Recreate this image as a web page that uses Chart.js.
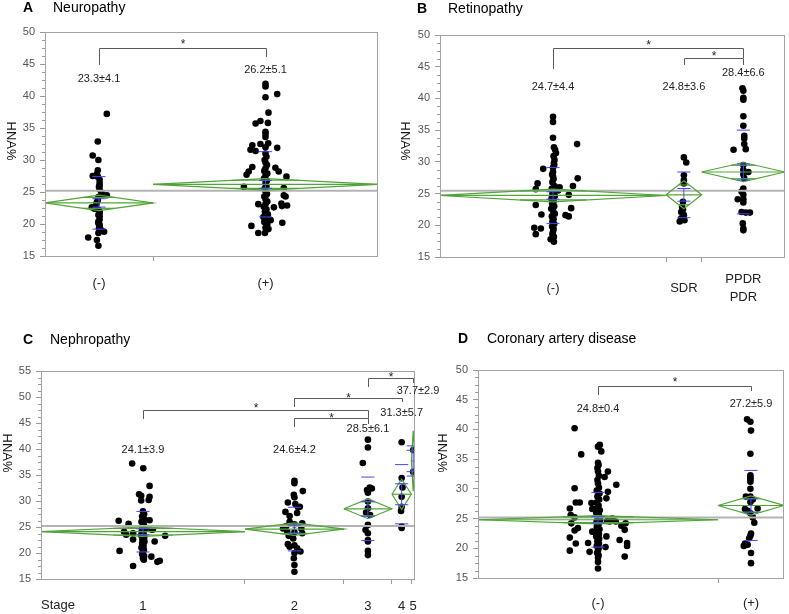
<!DOCTYPE html>
<html>
<head>
<meta charset="utf-8">
<script src="https://cdn.jsdelivr.net/npm/chart.js@4.4.1/dist/chart.umd.min.js"></script>
<style>
  body { margin: 0; background: #fff; }
  #wrap { position: relative; width: 789px; height: 614px; }
  .panel { position: absolute; }
</style>
</head>
<body>
<div id="wrap">
  <div class="panel" style="left:0;top:0;width:390px;height:300px"><canvas id="chartA"></canvas></div>
  <div class="panel" style="left:390px;top:0;width:399px;height:310px"><canvas id="chartB"></canvas></div>
  <div class="panel" style="left:0;top:300px;width:460px;height:314px"><canvas id="chartC"></canvas></div>
  <div class="panel" style="left:390px;top:300px;width:399px;height:314px"><canvas id="chartD"></canvas></div>
</div>
<script>
var FONT = '"Liberation Sans", Arial, Helvetica, sans-serif';
Chart.defaults.font.family = FONT;

// ---- A: Neuropathy ----
var neuroLabels = ['(-)', '(+)'];
var neuroWidths = [36, 75];
var neuroMeans = [23.3, 26.2];
var neuroSDs = [4.1, 5.1];
var neuroCI = [1.2, 0.9];
var neuroGrand = 25.2;
var neuroStats = ['23.3\u00b14.1', '26.2\u00b15.1'];
// points as [jitter, HNA%]
var neuroNeg = [[2.6,37.2],[-0.4,32.9],[-2.1,30.7],[-0.2,30.0],[-0.4,28.4],[-0.7,27.8],[-2.1,27.5],[-0.4,27.4],[0.2,26.9],[0.2,26.4],[0.2,26.0],[0,25.8],[0.2,25.4],[0.8,24.9],[2.6,24.5],[1.2,24.6],[-0.2,24.2],[-0.4,23.7],[-0.7,23.4],[-0.9,23.1],[-2.4,22.6],[-1.5,22.4],[-0.2,22.2],[0.2,21.9],[0.2,21.7],[-0.2,21.4],[0.2,21.2],[0.2,20.7],[-0.2,20.4],[-0.2,20.1],[0.2,19.9],[0.2,19.6],[0,19.3],[0.8,19.0],[1.7,18.8],[-0.2,18.6],[-3.6,17.9],[-0.7,17.5],[-0.2,16.6]];
var neuroPos = [[0,41.9],[0,41.5],[3.9,40.3],[0,39.8],[1.0,37.4],[-3.3,35.7],[-1.7,36.1],[0.8,35.8],[0,34.4],[0,34.1],[0,33.6],[-4.4,32.3],[-1.7,32.5],[0.9,32.6],[-5,31.6],[-3.3,31.4],[3.9,31.9],[0,32.0],[0,31.0],[0.3,30.5],[-0.3,30.0],[0,29.6],[0.5,29.2],[-4.4,28.9],[3.3,28.8],[0,28.7],[-5.6,28.2],[4.4,28.2],[-0.4,28.3],[-6.3,27.7],[0.6,27.9],[7,27.4],[0,27.5],[-0.5,27.1],[0.4,26.7],[0,26.3],[-7.2,25.8],[6.1,25.6],[0.3,25.9],[-0.3,25.5],[0,25.1],[6.1,24.5],[6.7,24.3],[0.5,24.7],[-0.4,24.3],[0,23.9],[0.6,23.5],[-2.4,23.1],[5.3,23.2],[0,23.1],[5.5,22.8],[7.2,22.9],[2.8,22.6],[-0.6,22.7],[0.3,22.3],[-0.2,21.9],[0.8,21.5],[-0.7,21.1],[1.7,20.6],[0,20.7],[5.6,20.2],[-0.4,20.3],[-4.7,19.7],[0.6,19.9],[0,19.4],[-2.4,18.6],[-0.2,18.6],[1.0,19.2]];

// ---- B: Retinopathy ----
var retinoLabels = ['(-)', 'SDR', ['PPDR', 'PDR']];
var retinoWidths = [76, 12, 28];
var retinoMeans = [24.7, 24.8, 28.4];
var retinoSDs = [4.4, 3.6, 6.6];
var retinoCI = [1.0, 2.2, 1.5];
var retinoGrand = 25.45;
var retinoStats = ['24.7\u00b14.4', '24.8\u00b13.6', '28.4\u00b16.6'];
var retinoNeg = [[0,37.1],[0,36.3],[0,33.8],[8.1,32.8],[0.3,32.3],[0.7,31.9],[1,31.4],[0.2,30.9],[0.5,30.3],[0.3,29.8],[0,29.1],[-3.3,28.9],[0,28.4],[0,27.7],[8.3,27.4],[-5.2,26.6],[-5.8,25.7],[2.2,26.0],[6.7,26.2],[1.7,25.5],[5.3,24.8],[-5.8,23.2],[-3.9,21.7],[4.2,21.6],[5.3,21.4],[6.1,22.7],[-6.3,19.6],[-4.1,19.5],[-5.8,18.6],[-0.8,17.8],[0.3,17.4],[0.4,29.5],[-0.3,28.0],[0.2,27.3],[-0.2,26.8],[0.5,26.2],[-0.4,25.8],[0.3,25.3],[-0.2,25.0],[0.6,24.6],[-0.5,24.2],[0.2,23.8],[-0.3,23.4],[0.4,23.0],[-0.6,22.6],[0.1,22.2],[0.6,21.8],[-0.4,21.4],[0.2,21.0],[-0.2,20.6],[0.4,20.2],[-0.3,19.8],[0.2,19.4],[0,19.0],[-0.2,18.6],[0.3,18.2]];
var retinoSDR = [[0,30.7],[0.8,29.9],[0,27.9],[0,27.1],[0,26.6],[-0.3,23.7],[-0.6,22.9],[-0.3,22.5],[-0.9,22.1],[0,21.6],[-0.9,21.1],[0.2,20.8],[-1.4,20.6]];
var retinoPDR = [[-0.3,41.6],[0,41.2],[0,40.1],[0,39.8],[0,37.2],[0,35.7],[0.3,34.1],[0.3,33.7],[-3.3,31.9],[0.3,32.8],[0.8,32.0],[0,29.5],[0,28.7],[1.7,28.4],[0,28.0],[0.3,27.4],[0,25.8],[-0.6,25.3],[0,24.8],[0,24.1],[-1.9,24.1],[0,23.6],[-0.6,22.1],[0.8,22.0],[2.2,22.0],[-0.2,20.3],[0,19.5],[0,19.2]];

// ---- C: Nephropathy ----
var nephroLabels = ['1', '2', '3', '4', '5'];
var nephroWidths = [68, 33, 16, 6.5, 1.2];
var nephroMeans = [24.1, 24.6, 28.5, 31.3, 37.7];
var nephroSDs = [3.9, 4.2, 6.1, 5.7, 2.9];
var nephroCI = [0.9, 1.2, 1.9, 2.9, 5.8];
var nephroGrand = 25.2;
var nephroStats = ['24.1\u00b13.9', '24.6\u00b14.2', '28.5\u00b16.1', '31.3\u00b15.7', '37.7\u00b12.9'];
var nephro1 = [[-3.6,37.2],[0.1,36.3],[2.2,32.9],[-1.3,31.3],[-0.6,31.0],[2.2,30.8],[1.9,30.2],[-0.6,30.1],[-8.1,26.2],[-4.8,25.6],[2.2,26.3],[3.3,24.5],[2.8,24.5],[-6.3,24.1],[-5.6,23.5],[-3.3,23.8],[7.4,23.3],[-3.3,22.6],[3.9,22.2],[-7.8,20.4],[2.8,19.3],[4.8,18.3],[5.6,18.5],[-3.3,17.5],[0.3,18.7],[0,28.0],[0.4,27.5],[-0.3,27.0],[0.5,26.5],[-0.5,26.0],[0.3,25.5],[-0.2,25.0],[0.6,24.6],[-0.4,24.2],[0.2,23.8],[-0.6,23.4],[0.4,23.0],[-0.2,22.6],[0.5,22.2],[-0.3,21.8],[0.2,21.4],[-0.5,21.0],[0.3,20.6],[0,20.2],[-0.3,19.8],[0.4,19.4],[0,19.0]];
var nephro2 = [[0,33.9],[0,33.4],[2.8,31.9],[-0.2,31.2],[0,30.7],[-2.2,29.7],[0.3,29.4],[1.2,28.8],[1.8,28.9],[-3,27.9],[-1.6,27.1],[0.9,27.7],[-1.6,26.0],[-2.7,25.2],[-3.8,24.7],[0,25.5],[2.6,25.7],[2.3,24.7],[2.6,23.8],[-2.4,24.1],[-1.9,23.3],[-0.4,22.8],[0,24.0],[-2.2,21.7],[-1.6,21.2],[0.9,20.9],[2,20.3],[0,21.5],[-0.2,19.0],[0,17.7],[0,16.4],[0,20.0]];
var nephro3 = [[0,41.8],[0,40.3],[-1.7,37.3],[0.6,32.6],[1.3,32.4],[-0.3,32.1],[0,31.6],[0,29.9],[0,28.6],[-0.6,27.8],[0.7,27.3],[0,25.4],[-0.8,24.4],[0,23.8],[0,22.5],[0,22.2],[0,20.4],[0,19.6]];
var nephro4 = [[0,41.3],[0,34.4],[0.3,32.6],[0,30.8],[0,28.9],[-0.2,28.1],[0,25.1],[0,24.8]];
var nephro5 = [[0,39.8],[0,35.6]];

// ---- D: Coronary artery disease ----
var cadLabels = ['(-)', '(+)'];
var cadWidths = [80, 22];
var cadMeans = [24.8, 27.2];
var cadSDs = [4.6, 5.9];
var cadCI = [0.7, 1.6];
var cadGrand = 25.2;
var cadStats = ['24.8\u00b10.4', '27.2\u00b15.9'];
var cadNeg = [[-7.8,40.2],[0.6,37.4],[0,37.1],[-5.6,35.8],[1.1,36.3],[0,34.4],[0.2,34.0],[-0.2,33.5],[0,32.9],[0.3,32.2],[-0.2,31.5],[0,30.9],[3.3,32.9],[2.2,32.0],[6.1,30.7],[-7.8,30.1],[3.3,29.5],[2.8,28.4],[-7.4,27.7],[-6.1,27.7],[-2.2,27.6],[-9.4,26.7],[-1.9,26.6],[-9.1,25.6],[-7.8,25.2],[4.8,25.0],[3.9,24.5],[3.0,24.6],[5.9,24.5],[7.8,23.8],[9.2,24.2],[-8.9,24.2],[-6.7,23.4],[-7.8,23.0],[8.9,23.1],[-1.9,22.8],[2.8,22.0],[-9.4,21.8],[7.2,21.4],[-7.4,20.8],[-3.3,20.9],[9.7,20.9],[9.7,20.4],[-9.4,19.6],[-2.8,19.4],[2.5,20.2],[8.9,18.6],[0,17.7],[0,16.6],[0.3,30.2],[-0.4,29.7],[0.5,29.2],[-0.2,28.7],[0.4,28.2],[-0.5,27.7],[0.2,27.2],[-0.3,26.8],[0.6,26.4],[-0.6,26.0],[0.3,25.6],[-0.2,25.2],[0.7,24.8],[-0.5,24.4],[0.2,24.0],[-0.4,23.6],[0.5,23.2],[-0.2,22.8],[0.3,22.4],[-0.6,22.0],[0.4,21.6],[-0.2,21.2],[0.3,20.8],[-0.4,20.4],[0.2,20.0],[0,19.6],[-0.3,19.2],[0.2,18.8],[0,18.4]];
var cadPos = [[-1.3,41.7],[-0.2,41.3],[0,39.8],[-0.2,35.9],[-0.2,32.3],[-0.2,31.9],[-0.2,31.6],[-0.2,31.2],[-0.2,30.0],[-0.2,28.7],[-1.7,28.7],[0.6,28.2],[-0.2,27.8],[2.2,26.7],[-2,26.6],[-1.1,26.3],[-0.2,25.9],[0.6,25.2],[1.1,24.3],[0,22.5],[-0.2,22.1],[-0.6,21.7],[-2,20.8],[-1.1,20.6],[-2.4,20.4],[0,19.2],[0,17.5]];

var GREEN = '#52a33a';
var BLUE = '#4646f5';
var CAP = 2.2; // half width of the blue caps, x units

function seg(points, color, width, order) {
  return { type: 'scatter', data: points, showLine: true, borderColor: color, borderWidth: width,
           pointRadius: 0, pointHoverRadius: 0, fill: false, tension: 0, order: order };
}

function makePanel(p) {
  var starts = [], acc = 0;
  p.widths.forEach(function(w) { starts.push(acc); acc += w; });
  var total = acc;
  var centers = p.widths.map(function(w, i) { return starts[i] + w / 2; });
  var bounds = starts.slice(1);

  var datasets = [];
  var pts = [];
  p.groups.forEach(function(g, i) {
    g.forEach(function(d) { pts.push({ x: centers[i] + d[0], y: d[1] }); });
  });
  datasets.push({ type: 'scatter', data: pts, backgroundColor: '#000', borderColor: '#000',
                  borderWidth: 0, pointRadius: 3.3, order: 4 });
  datasets.push(seg([{ x: 0, y: p.grand }, { x: total, y: p.grand }], '#b4b4b4', 2, 3));

  p.means.forEach(function(m, i) {
    var l = starts[i], r = starts[i] + p.widths[i], c = centers[i], h = p.ci[i];
    datasets.push(seg([{x:l,y:m},{x:c,y:m+h},{x:r,y:m},{x:c,y:m-h},{x:l,y:m}], GREEN, 1.2, 2));
    datasets.push(seg([{x:l,y:m},{x:r,y:m}], GREEN, 1.2, 2));
    var o = h / Math.SQRT2, hw = p.widths[i] / 2 * (1 - 1 / Math.SQRT2);
    datasets.push(seg([{x:c-hw,y:m+o},{x:c+hw,y:m+o}], GREEN, 1.2, 2));
    datasets.push(seg([{x:c-hw,y:m-o},{x:c+hw,y:m-o}], GREEN, 1.2, 2));
    var sd = p.sds[i], se = sd / Math.sqrt(p.groups[i].length);
    [m + sd, m - sd, m + se, m - se].forEach(function(v) {
      datasets.push(seg([{x:c-CAP,y:v},{x:c+CAP,y:v}], BLUE, 1, 1));
    });
    datasets.push(seg([{x:c,y:m-se},{x:c,y:m+se}], BLUE, 1, 1));
  });

  var a = p.area;
  var overlay = {
    id: 'overlay',
    afterDraw: function(chart) {
      var c = chart.ctx, ca = chart.chartArea, xs = chart.scales.x, ys = chart.scales.y;
      c.save();
      c.strokeStyle = '#a3a3a3';
      c.lineWidth = 1;
      c.strokeRect(Math.round(ca.left) + 0.5, Math.round(ca.top) + 0.5,
                   Math.round(ca.right - ca.left) - 1, Math.round(ca.bottom - ca.top));
      // minor ticks
      c.strokeStyle = '#9a9a9a';
      c.beginPath();
      for (var v = p.yMin; v <= p.yMax; v += 1.25) {
        if (Math.abs(v % 5) < 1e-6) continue;
        var py = Math.round(ys.getPixelForValue(v)) + 0.5;
        c.moveTo(ca.left - 3, py); c.lineTo(ca.left, py);
      }
      c.stroke();
      // brackets
      c.strokeStyle = '#5a5a5a';
      c.fillStyle = '#222';
      c.font = '12px ' + FONT;
      c.textAlign = 'center';
      c.textBaseline = 'middle';
      p.brackets.forEach(function(b) {
        var x1 = Math.round(xs.getPixelForValue(centers[b.from])) + 0.5;
        var x2 = Math.round(xs.getPixelForValue(centers[b.to])) + 0.5;
        var yt = Math.round(ys.getPixelForValue(b.top)) + 0.5;
        c.beginPath();
        c.moveTo(x1, Math.round(ys.getPixelForValue(b.l)));
        c.lineTo(x1, yt); c.lineTo(x2, yt);
        c.lineTo(x2, Math.round(ys.getPixelForValue(b.r)));
        c.stroke();
        c.fillText('*', (x1 + x2) / 2, ys.getPixelForValue(b.star) + 2.8);
      });
      // group stats
      c.font = '11px ' + FONT;
      p.stats.forEach(function(s, i) {
        var dx = p.statDx ? p.statDx[i] : 0;
        c.fillText(s, xs.getPixelForValue(centers[i] + dx), ys.getPixelForValue(p.statY[i]));
      });
      // panel title
      c.fillStyle = '#000';
      c.textAlign = 'left';
      c.font = 'bold 14px ' + FONT;
      c.fillText(p.letter, p.letterX, p.titleY);
      c.font = '14px ' + FONT;
      c.fillText(p.title, p.titleX, p.titleY);
      if (p.stage) {
        c.font = '13px ' + FONT;
        c.fillStyle = '#222';
        c.fillText('Stage', ca.left, ca.bottom + 26);
      }
      // y title
      c.translate(p.yTitleX, p.yTitleY);
      c.rotate(Math.PI / 2);
      c.textAlign = 'center';
      c.font = '13px ' + FONT;
      c.fillStyle = '#111';
      c.fillText('HNA%', 0, 0);
      c.restore();
    }
  };

  return new Chart(document.getElementById(p.canvas), {
    type: 'scatter',
    data: { datasets: datasets },
    options: {
      responsive: true,
      maintainAspectRatio: false,
      animation: false,
      devicePixelRatio: 1,
      layout: { padding: { top: a.t, right: p.w - a.r, left: 0, bottom: 0 } },
      plugins: { legend: { display: false }, tooltip: { enabled: false } },
      scales: {
        x: {
          type: 'linear', min: 0, max: total, bounds: 'data',
          afterBuildTicks: function(s) {
            s.ticks = bounds.concat(centers).sort(function(u, v) { return u - v; })
                            .map(function(v) { return { value: v }; });
          },
          afterFit: function(s) { s.height = p.h - a.b; },
          ticks: {
            autoSkip: false, maxRotation: 0, minRotation: 0, padding: p.xPad,
            crossAlign: 'center', color: '#222',
            font: { size: 13, lineHeight: 1.4 },
            callback: function(v) {
              for (var i = 0; i < centers.length; i++) {
                if (Math.abs(centers[i] - v) < 1e-6) return p.labels[i];
              }
              return '';
            }
          },
          grid: {
            drawOnChartArea: false, drawTicks: true, tickLength: 5,
            color: function(ctx) {
              var v = ctx.tick ? ctx.tick.value : -1;
              return bounds.some(function(b) { return Math.abs(b - v) < 1e-6; }) ? '#9a9a9a' : 'rgba(0,0,0,0)';
            }
          },
          border: { display: false }
        },
        y: {
          min: p.yMin, max: p.yMax,
          afterFit: function(s) { s.width = a.l; },
          ticks: { stepSize: 5, padding: 5, color: '#555', font: { size: 11 } },
          grid: { drawOnChartArea: false, drawTicks: true, tickLength: 5, color: '#9a9a9a' },
          border: { display: false }
        }
      }
    },
    plugins: [overlay]
  });
}

makePanel({
  canvas: 'chartA', w: 390, h: 300, area: { l: 45, t: 32, r: 378, b: 256 },
  yMin: 15, yMax: 50, xPad: 22,
  labels: neuroLabels, widths: neuroWidths, means: neuroMeans, sds: neuroSDs, ci: neuroCI,
  grand: neuroGrand, stats: neuroStats, groups: [neuroNeg, neuroPos],
  statY: [42.7, 44.1],
  brackets: [{ from: 0, to: 1, top: 47.5, l: 44.8, r: 46.1, star: 48.4 }],
  letter: 'A', title: 'Neuropathy', letterX: 23, titleX: 53, titleY: 8,
  yTitleX: 10.5, yTitleY: 141
});

makePanel({
  canvas: 'chartB', w: 399, h: 310, area: { l: 50, t: 35, r: 397, b: 257 },
  yMin: 15, yMax: 50, xPad: 17,
  labels: retinoLabels, widths: retinoWidths, means: retinoMeans, sds: retinoSDs, ci: retinoCI,
  grand: retinoGrand, stats: retinoStats, groups: [retinoNeg, retinoSDR, retinoPDR],
  statY: [41.8, 41.8, 44.0],
  brackets: [
    { from: 0, to: 2, top: 47.95, l: 44.6, r: 46.4, star: 48.7 },
    { from: 1, to: 2, top: 46.4, l: 45.3, r: 45.3, star: 47.0 }
  ],
  letter: 'B', title: 'Retinopathy', letterX: 27, titleX: 58, titleY: 9.5,
  yTitleX: 15, yTitleY: 141
});

makePanel({
  canvas: 'chartC', w: 460, h: 314, area: { l: 41, t: 71, r: 415, b: 279 },
  yMin: 15, yMax: 55, xPad: 22, stage: true,
  labels: nephroLabels, widths: nephroWidths, means: nephroMeans, sds: nephroSDs, ci: nephroCI,
  grand: nephroGrand, stats: nephroStats, groups: [nephro1, nephro2, nephro3, nephro4, nephro5],
  statY: [39.8, 39.8, 43.8, 46.9, 51.2], statDx: [0, 0, 0, 0, 1.6],
  brackets: [
    { from: 0, to: 2, top: 47.5, l: 45.7, r: 45.9, star: 48.3 },
    { from: 1, to: 3, top: 49.9, l: 48.0, r: 49.1, star: 50.25 },
    { from: 1, to: 2, top: 45.9, l: 44.2, r: 44.9, star: 46.4 },
    { from: 2, to: 4, top: 53.6, l: 51.9, r: 52.75, star: 54.2 }
  ],
  letter: 'C', title: 'Nephropathy', letterX: 23, titleX: 50, titleY: 40,
  yTitleX: 7, yTitleY: 153
});

makePanel({
  canvas: 'chartD', w: 399, h: 314, area: { l: 88, t: 70, r: 394, b: 278 },
  yMin: 15, yMax: 50, xPad: 20,
  labels: cadLabels, widths: cadWidths, means: cadMeans, sds: cadSDs, ci: cadCI,
  grand: cadGrand, stats: cadStats, groups: [cadNeg, cadPos],
  statY: [43.4, 44.2],
  brackets: [{ from: 0, to: 1, top: 47.3, l: 45.8, r: 46.5, star: 48.3 }],
  letter: 'D', title: 'Coronary artery disease', letterX: 68, titleX: 97, titleY: 39,
  yTitleX: 52, yTitleY: 153
});
</script>
</body>
</html>
